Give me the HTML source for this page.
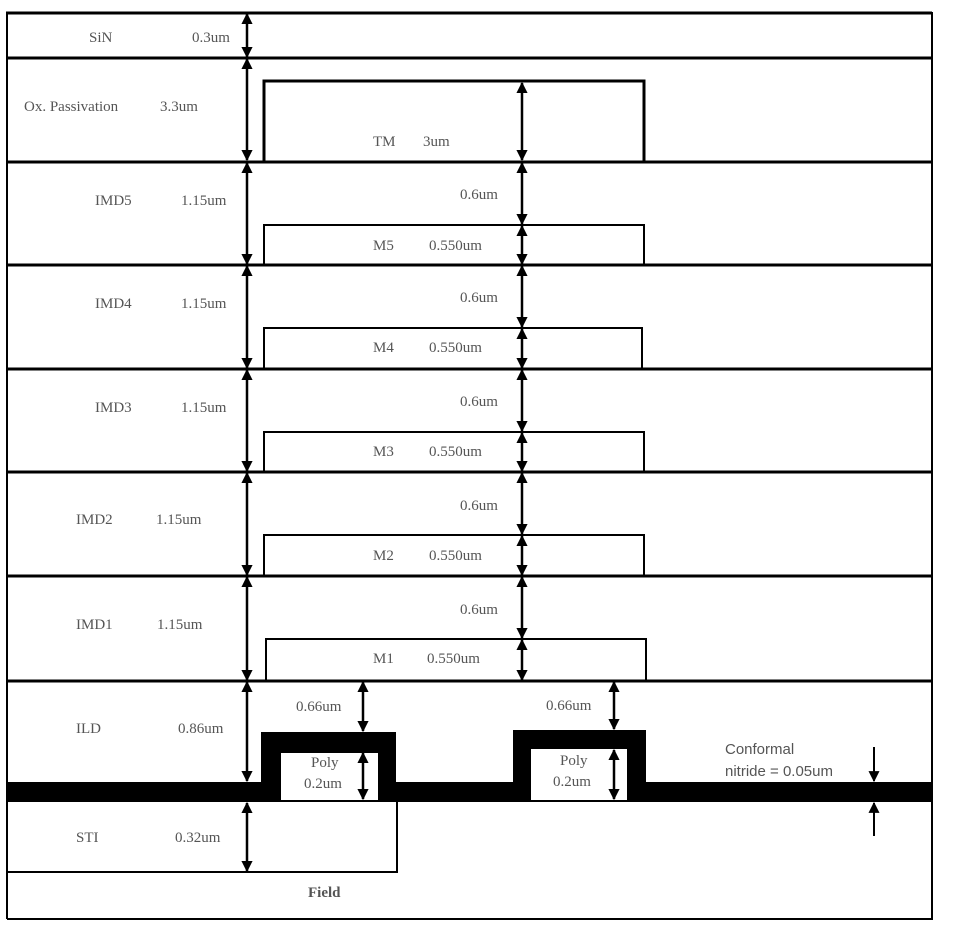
<!DOCTYPE html>
<html><head><style>
html,body{margin:0;padding:0;background:#fff;}
svg{display:block}
text{font-family:"Liberation Serif",serif;font-size:15px;fill:#555;}
.s{font-family:"Liberation Sans",sans-serif;}
</style></head><body>
<svg width="957" height="925" viewBox="0 0 957 925" xmlns="http://www.w3.org/2000/svg">
<defs>
<marker id="a" viewBox="0 0 10 10" refX="9" refY="5" markerWidth="4.5" markerHeight="4.5" orient="auto-start-reverse"><path d="M0,0 L10,5 L0,10 z" fill="#000"/></marker>
<marker id="b" viewBox="0 0 10 10" refX="9" refY="5" markerWidth="5.5" markerHeight="5.5" orient="auto-start-reverse"><path d="M0,0 L10,5 L0,10 z" fill="#000"/></marker>
</defs>
<g stroke="#000" fill="none">
<line x1="7" y1="13" x2="7" y2="919" stroke-width="2"/>
<line x1="932" y1="12" x2="932" y2="920" stroke-width="2"/>
<line x1="7" y1="919" x2="932" y2="919" stroke-width="2"/>
<g stroke-width="3">
<line x1="6" y1="13" x2="932" y2="13"/>
<line x1="6" y1="58" x2="932" y2="58"/>
<line x1="6" y1="162" x2="932" y2="162"/>
<line x1="6" y1="265" x2="932" y2="265"/>
<line x1="6" y1="369" x2="932" y2="369"/>
<line x1="6" y1="472" x2="932" y2="472"/>
<line x1="6" y1="576" x2="932" y2="576"/>
<line x1="6" y1="681" x2="932" y2="681"/>
</g>
<path d="M264,161 V81 H644 V161" stroke-width="3"/>
<path d="M264,265 V225 H644 V265" stroke-width="2"/>
<path d="M264,369 V328 H642 V369" stroke-width="2"/>
<path d="M264,472 V432 H644 V472" stroke-width="2"/>
<path d="M264,576 V535 H644 V576" stroke-width="2"/>
<path d="M266,681 V639 H646 V681" stroke-width="2"/>
<line x1="397" y1="800" x2="397" y2="873" stroke-width="2"/>
<line x1="7" y1="872" x2="398" y2="872" stroke-width="2"/>
</g>
<rect x="7" y="782" width="926" height="20" fill="#000"/>
<rect x="261" y="732" width="135" height="70" fill="#000"/>
<rect x="281" y="753" width="97" height="47" fill="#fff"/>
<rect x="513" y="730" width="133" height="72" fill="#000"/>
<rect x="531" y="749" width="96" height="51" fill="#fff"/>
<g stroke="#000" stroke-width="2.5" marker-start="url(#a)" marker-end="url(#a)">
<line x1="247" y1="14" x2="247" y2="57"/>
<line x1="247" y1="59" x2="247" y2="160"/>
<line x1="247" y1="163" x2="247" y2="264"/>
<line x1="247" y1="266" x2="247" y2="368"/>
<line x1="247" y1="370" x2="247" y2="471"/>
<line x1="247" y1="473" x2="247" y2="575"/>
<line x1="247" y1="577" x2="247" y2="680"/>
<line x1="247" y1="682" x2="247" y2="781"/>
<line x1="247" y1="803" x2="247" y2="871"/>
<line x1="522" y1="83" x2="522" y2="160"/>
<line x1="522" y1="163" x2="522" y2="224"/>
<line x1="522" y1="226" x2="522" y2="264"/>
<line x1="522" y1="266" x2="522" y2="327"/>
<line x1="522" y1="329" x2="522" y2="368"/>
<line x1="522" y1="370" x2="522" y2="431"/>
<line x1="522" y1="433" x2="522" y2="471"/>
<line x1="522" y1="473" x2="522" y2="534"/>
<line x1="522" y1="536" x2="522" y2="575"/>
<line x1="522" y1="577" x2="522" y2="638"/>
<line x1="522" y1="640" x2="522" y2="680"/>
<line x1="363" y1="682" x2="363" y2="731"/>
<line x1="363" y1="753" x2="363" y2="799"/>
<line x1="614" y1="682" x2="614" y2="729"/>
<line x1="614" y1="750" x2="614" y2="799"/>
</g>
<g stroke="#000" stroke-width="2" marker-end="url(#b)">
<line x1="874" y1="747" x2="874" y2="781"/>
<line x1="874" y1="836" x2="874" y2="803"/>
</g>
<text x="89" y="42">SiN</text><text x="192" y="42">0.3um</text>
<text x="24" y="111">Ox. Passivation</text><text x="160" y="111">3.3um</text>
<text x="373" y="146">TM</text><text x="423" y="146">3um</text>
<text x="95" y="205">IMD5</text><text x="181" y="205">1.15um</text>
<text x="460" y="199">0.6um</text>
<text x="373" y="250">M5</text><text x="429" y="250">0.550um</text>
<text x="95" y="308">IMD4</text><text x="181" y="308">1.15um</text>
<text x="460" y="302">0.6um</text>
<text x="373" y="352">M4</text><text x="429" y="352">0.550um</text>
<text x="95" y="412">IMD3</text><text x="181" y="412">1.15um</text>
<text x="460" y="406">0.6um</text>
<text x="373" y="456">M3</text><text x="429" y="456">0.550um</text>
<text x="76" y="524">IMD2</text><text x="156" y="524">1.15um</text>
<text x="460" y="510">0.6um</text>
<text x="373" y="560">M2</text><text x="429" y="560">0.550um</text>
<text x="76" y="629">IMD1</text><text x="157" y="629">1.15um</text>
<text x="460" y="614">0.6um</text>
<text x="373" y="663">M1</text><text x="427" y="663">0.550um</text>
<text x="76" y="733">ILD</text><text x="178" y="733">0.86um</text>
<text x="296" y="711">0.66um</text>
<text x="546" y="710">0.66um</text>
<text x="311" y="767">Poly</text><text x="304" y="788">0.2um</text>
<text x="560" y="765">Poly</text><text x="553" y="786">0.2um</text>
<text x="76" y="842">STI</text><text x="175" y="842">0.32um</text>
<text x="308" y="897" style="font-weight:bold">Field</text>
<text class="s" x="725" y="754">Conformal</text>
<text class="s" x="725" y="776">nitride = 0.05um</text>
</svg>
</body></html>
